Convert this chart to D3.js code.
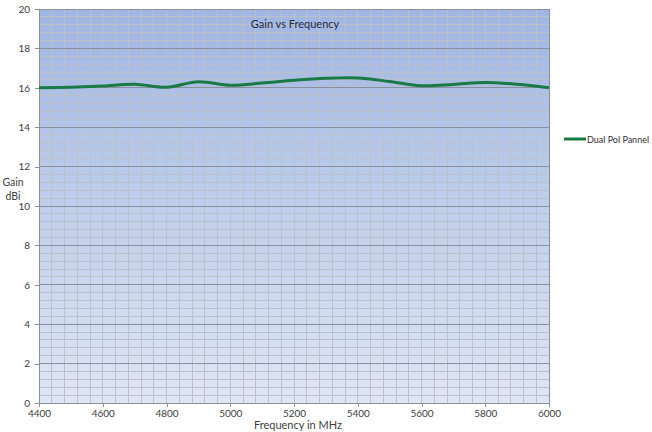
<!DOCTYPE html>
<html><head><meta charset="utf-8">
<script src="https://cdn.jsdelivr.net/npm/d3@7"></script>
<style>body{margin:0;background:#fff}svg{display:block}text{font-family:Lato,"Liberation Sans",sans-serif}</style>
</head><body><svg id="c" width="652" height="432"></svg>
<script>
const freqs = [4400,4500,4600,4700,4800,4900,5000,5100,5200,5300,5400,5500,5600,5700,5800,5900,6000];
const gain  = [16.00,16.03,16.09,16.18,16.03,16.31,16.13,16.24,16.38,16.48,16.50,16.32,16.11,16.17,16.27,16.18,16.00];
const xTicks = [4400,4600,4800,5000,5200,5400,5600,5800,6000];
const yTicks = [0,2,4,6,8,10,12,14,16,18,20];
const seriesName = "Dual Pol Pannel";

const svg = d3.select("#c");
const L=39,R=549,T=9,B=403;
const x = d3.scaleLinear().domain([4400,6000]).range([L,R]);
const y = d3.scaleLinear().domain([0,20]).range([B,T]);

const defs = svg.append("defs");
const g = defs.append("linearGradient").attr("id","bg").attr("x1",0).attr("y1",0).attr("x2",0).attr("y2",1);
g.append("stop").attr("offset","0%").attr("stop-color","#9fb6e2");
g.append("stop").attr("offset","100%").attr("stop-color","#dfe6f5");
svg.append("rect").attr("x",L).attr("y",T).attr("width",R-L).attr("height",B-T).attr("fill","url(#bg)");

// minor grid
const minorX = d3.range(4400,6000.1,40);
const minorY = d3.range(0,20.01,0.4);
svg.append("g").selectAll("line").data(minorX).join("line")
  .attr("x1",d=>x(d)).attr("x2",d=>x(d)).attr("y1",T).attr("y2",B)
  .attr("stroke","#bcc0c8").attr("stroke-width",1).attr("shape-rendering","crispEdges");
svg.append("g").selectAll("line").data(minorY).join("line")
  .attr("x1",L).attr("x2",R).attr("y1",d=>y(d)).attr("y2",d=>y(d))
  .attr("stroke","#bcc0c8").attr("stroke-width",1).attr("shape-rendering","crispEdges");
// major horizontal grid
svg.append("g").selectAll("line").data(yTicks).join("line")
  .attr("x1",L).attr("x2",R).attr("y1",d=>y(d)).attr("y2",d=>y(d))
  .attr("stroke","#8a8f99").attr("stroke-width",1).attr("shape-rendering","crispEdges");

// axes
const xa = svg.append("g").attr("transform",`translate(0,${B})`)
  .call(d3.axisBottom(x).tickValues(xTicks).tickFormat(d3.format("d")).tickSize(4).tickPadding(3));
const ya = svg.append("g").attr("transform",`translate(${L},0)`)
  .call(d3.axisLeft(y).tickValues(yTicks).tickSize(4).tickPadding(5));
[xa,ya].forEach(a=>{
  a.selectAll("path,line").attr("stroke","#8a8f99").attr("shape-rendering","crispEdges");
  a.selectAll("text").attr("fill","#404040").style("font-size","10px");
});
svg.append("line").attr("x1",R).attr("x2",R).attr("y1",T).attr("y2",B).attr("stroke","#8a8f99").attr("shape-rendering","crispEdges");

// line
svg.append("path").datum(freqs.map((f,i)=>[f,gain[i]]))
  .attr("d",d3.line().x(d=>x(d[0])).y(d=>y(d[1])).curve(d3.curveCatmullRom.alpha(0.5)))
  .attr("fill","none").attr("stroke","#1a7a45").attr("stroke-width",3);

// titles
svg.append("text").attr("x",295).attr("y",28).attr("text-anchor","middle")
  .attr("fill","#1f2a44").style("font-size","11px").text("Gain vs Frequency");
svg.append("text").attr("x",298).attr("y",429).attr("text-anchor","middle")
  .attr("fill","#404040").style("font-size","11px").text("Frequency in MHz");
svg.append("text").attr("x",13).attr("y",186).attr("text-anchor","middle")
  .attr("fill","#404040").style("font-size","10.5px").text("Gain");
svg.append("text").attr("x",13).attr("y",200).attr("text-anchor","middle")
  .attr("fill","#404040").style("font-size","10.5px").text("dBi");

// legend
svg.append("line").attr("x1",564).attr("x2",586).attr("y1",139).attr("y2",139)
  .attr("stroke","#1a7a45").attr("stroke-width",3);
svg.append("text").attr("x",587).attr("y",142.5).attr("fill","#303030")
  .style("font-size","9px").text(seriesName);
</script></body></html>
